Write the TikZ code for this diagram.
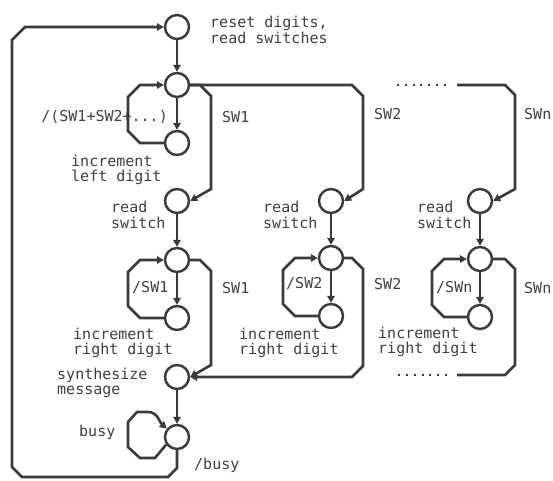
\documentclass[tikz,border=0pt]{standalone}
\usepackage{fontspec}
\setmonofont{DejaVu Sans Mono}
\usetikzlibrary{arrows.meta}
\definecolor{ln}{HTML}{3A3A3A}
\definecolor{tx}{HTML}{404040}
\tikzset{
  st/.style={circle,draw=ln,line width=2.4pt,minimum size=24pt,inner sep=0pt},
  wire/.style={draw=ln,line width=2.6pt,line join=miter},
  arr/.style={wire,-{Triangle[length=7pt,width=7.5pt]}},
  dots/.style={draw=ln,line width=2.2pt,dash pattern=on 2pt off 5.8pt},
  lbl/.style={font=\ttfamily\fontsize{15}{15.5}\selectfont,text=tx,inner sep=0pt,align=left,anchor=west}
}
\begin{document}
\begin{tikzpicture}[x=1pt,y=-1pt]
\useasboundingbox[fill=white] (0,0) rectangle (553,480);
% states, column 1
\node[st] (A) at (177,27) {};
\node[st] (B) at (177,85) {};
\node[st] (C) at (177,143) {};
\node[st] (D) at (177,201) {};
\node[st] (E) at (177,260) {};
\node[st] (F) at (177,318) {};
\node[st] (G) at (177,377) {};
\node[st] (H) at (177,437) {};
% column 2
\node[st] (R2) at (331,201) {};
\node[st] (E2) at (331,258) {};
\node[st] (F2) at (331,316) {};
% column 3
\node[st] (R3) at (480,201) {};
\node[st] (E3) at (480,259) {};
\node[st] (F3) at (480,317) {};
\coordinate (t1) at (457,85);
\coordinate (t0) at (447,85);
\coordinate (tz) at (397,85);
\coordinate (b1) at (457,375);
\coordinate (b0) at (447,375);
\coordinate (bz) at (397,375);

% straight arrows
\draw[arr] (A) -- (B);
\draw[arr] (B) -- (C);
\draw[arr] (D) -- (E);
\draw[arr] (E) -- (F);
\draw[arr] (G) -- (H);
\draw[arr] (R2) -- (E2);
\draw[arr] (E2) -- (F2);
\draw[arr] (R3) -- (E3);
\draw[arr] (E3) -- (F3);

% left loops
\draw[arr] (C.west) -- (140,143) -- (128,131) -- (128,97) -- (140,85) -- (B.west);
\draw[arr] (F.west) -- (140,318) -- (128,306) -- (128,272) -- (140,260) -- (E.west);
\draw[arr] (F2.west) -- (295,316) -- (283,304) -- (283,270) -- (295,258) -- (E2.west);
\draw[arr] (F3.west) -- (444,317) -- (432,305) -- (432,271) -- (444,259) -- (E3.west);

% branches from B
\draw[arr] (B.east) -- (200,85) -- (211,96) -- (211,189) -- (D.east);
\draw[arr] (B.east) -- (352,85) -- (363,96) -- (363,189) -- (R2.east);
\draw[arr] (t1) -- (505,85) -- (515,95) -- (515,189) -- (R3.east);
\draw[dots] (tz) -- (t0);

% returns to G
\draw[arr] (E.east) -- (200,260) -- (211,271) -- (211,365) -- (G.east);
\draw[arr] (E2.east) -- (352,258) -- (363,269) -- (363,366) -- (352,377) -- (G.east);
\draw[wire] (E3.east) -- (505,259) -- (515,269) -- (515,365) -- (505,375) -- (b1);
\draw[dots] (b0) -- (bz);

% busy loop
\draw[arr] (H.215) -- (155,458) -- (140,458) -- (128,447) -- (128,422) -- (137,412) -- (148,412) to[out=0,in=140] (H.140);

% outer return loop
\draw[arr] (H.south) -- (177,468) -- (168,477) -- (22,477) -- (12,467) -- (12,40) -- (25,27) -- (A.west);

% labels
\node[lbl] at (210,30) {reset digits,\\read switches};
\node[lbl,anchor=east] at (168,117) {/(SW1+SW2+...)};
\node[lbl] at (222,117) {SW1};
\node[lbl] at (374,114) {SW2};
\node[lbl] at (524,114) {SWn};
\node[lbl] at (71,170) {increment\\left digit};
\node[lbl] at (111,215) {read\\switch};
\node[lbl] at (263,215) {read\\switch};
\node[lbl] at (417,215) {read\\switch};
\node[lbl] at (132,288) {/SW1};
\node[lbl] at (222,288) {SW1};
\node[lbl] at (286,284) {/SW2};
\node[lbl] at (374,284) {SW2};
\node[lbl] at (436,288) {/SWn};
\node[lbl] at (524,288) {SWn};
\node[lbl] at (73,343) {increment\\right digit};
\node[lbl] at (239,343) {increment\\right digit};
\node[lbl] at (378,342) {increment\\right digit};
\node[lbl] at (57,383) {synthesize\\message};
\node[lbl] at (79,432) {busy};
\node[lbl] at (194,465) {/busy};
\end{tikzpicture}
\end{document}
